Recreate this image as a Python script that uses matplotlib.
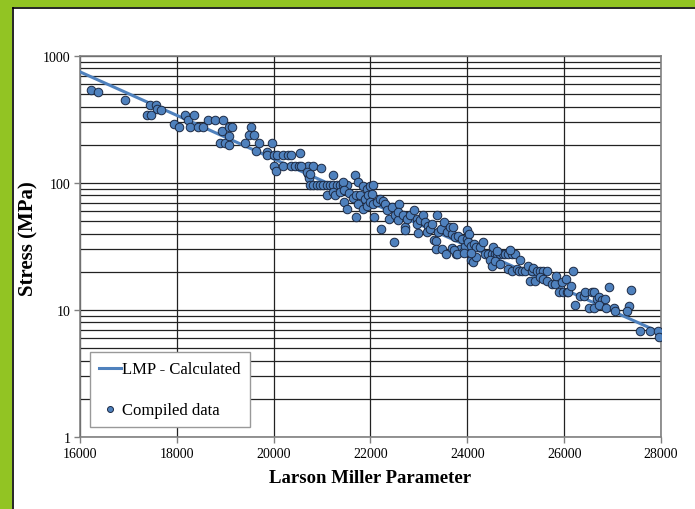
import matplotlib
matplotlib.use("Agg")
from matplotlib import pyplot as plt
from matplotlib.patches import Rectangle
from matplotlib.lines import Line2D
from matplotlib.ticker import LogLocator, FixedLocator, NullFormatter

plt.rcParams['font.family'] = ['Liberation Serif', 'DejaVu Serif']

# fitted Larson-Miller curve (two ends of the straight line in log space)
lmp_line = [16000, 28000]
stress_line = [750, 6.6]

# compiled creep data
lmp_data = [
    16221, 16372, 16930, 17446, 17564, 17584, 17680, 17377, 17473, 17949,
    18052, 18176, 18238, 18273, 18362, 18444, 18548, 18638, 18790, 18949,
    18941, 18899, 18990, 19085, 19085, 19085, 19140, 19409, 19527, 19492,
    19601, 19636, 19692, 19870, 19857, 19967, 20002, 20064, 20002, 20043,
    20200, 20304, 20360, 20200, 20366, 20442, 20525, 20545, 20717, 20717,
    20731, 20752, 20560, 20808,
    20683, 20752, 20973, 21234, 21682, 21750,
    20820, 20890, 20959, 21027, 21097, 21165, 21234, 21303, 21372, 21440, 21510,
    21426, 21097, 21234, 21269, 21372, 21455, 21455, 21524, 21564, 21634,
    21703, 21703, 21750, 21853, 21923, 21992, 22060, 21785, 21888, 21957,
    22027, 21853, 21923, 22074, 21992, 22060, 22129, 22198, 22266, 22300,
    22211, 22335, 22390, 22438, 22488, 22508, 22562, 22597, 22576, 22680,
    22715, 22749, 22715, 22818, 22901, 22957, 22957, 23025, 23093, 23128,
    23196, 22990, 23163, 23231, 23265, 23314, 23355, 23382, 23355, 23472,
    23562, 23403, 23452, 23520, 23576, 23645, 23680, 23713, 23748, 23816,
    23680, 23769, 23851, 23920, 23955, 23989, 23885, 23989, 24043,
    23727, 23783, 23934, 24023, 24072, 24140, 24182, 24264, 24333, 24072,
    24113, 24182, 24072,
    24368, 24436, 24506, 24574, 24610, 24678, 24746, 24781, 24850, 24919, 24987,
    24539, 24610, 24884, 24471, 24506, 24574, 24678,
    24850, 24919, 25023, 25058, 25091, 25126, 25194, 25262, 25332, 25366,
    25434, 25504, 25572, 25643,
    25298, 25401, 25504, 25572, 25643, 25746, 25814, 25835,
    25883, 25986, 26055, 26089, 25952, 26041, 26145, 26180, 26227,
    26331, 26400, 26436, 26574, 26622, 26678, 26711, 26781, 26849, 26917,
    26523, 26622, 26711, 26868, 27033, 27054, 27329, 27308, 27378,
    27570, 27763, 27928, 27957,
]
stress_data = [
    540, 518, 451, 414, 414, 383, 378, 343, 343, 290,
    275, 343, 315, 275, 343, 275, 275, 313, 313, 313,
    255, 207, 207, 236, 199, 276, 276, 207, 276, 239,
    239, 180, 207, 175, 166, 207, 166, 166, 137, 124,
    166, 166, 166, 137, 137, 137, 137, 173, 137, 118,
    109, 96, 137, 137,
    123, 118, 131, 116, 116, 101,
    96, 96, 96, 96, 96, 96, 96, 96, 96, 96, 96,
    102, 80.5, 84.5, 80, 84.5, 88.6, 70.5, 62.4, 83.4, 75.8,
    80, 53.7, 68.4, 95, 89.8, 95, 96, 80, 74.8, 80,
    82, 62.4, 66.2, 53.7, 70.5, 68.4, 70.5, 74.8, 72.6, 68.4,
    43.4, 61, 52.1, 64.3, 34.5, 55.6, 50.8, 68.4, 58.8, 55.6,
    44.8, 52.1, 42.3, 55.6, 61.6, 52.1, 47.5, 50.8, 55.6, 49,
    46.1, 40.2, 40.9, 43.4, 47.5, 35.7, 35.1, 56.3, 30.2, 30.2,
    27.5, 40.9, 43.4, 49, 40.9, 44.8, 39.7, 44.8, 37.3, 38.5,
    30.6, 27.5, 30.2, 28.5, 32.1, 42.3, 36.3, 36.3, 39.7,
    29.9, 27.6, 28.1, 34.1, 32.1, 33.1, 31.2, 31.2, 34.5, 24.9,
    23.7, 26, 28.1,
    27.5, 27.5, 27.5, 27.5, 27.5, 27.5, 27.5, 27.5, 27.5, 27.5, 27.5,
    31.2, 29.3, 29.9, 24.9, 22.3, 24.2, 23.2,
    21, 20.4, 21, 20.4, 24.6, 20.4, 20.4, 22.3, 20.4, 21.4,
    20.4, 20.4, 20.4, 20.4,
    17, 17, 18.1, 17.5, 17, 16, 16, 18.6,
    13.8, 13.8, 13.8, 13.8, 16.5, 17.5, 15.5, 20.4, 10.9,
    13, 13, 13.8, 13.8, 13.8, 12.2, 12.6, 11.9, 12.2, 15.1,
    10.3, 10.3, 10.9, 10.3, 10.3, 9.9, 10.7, 9.9, 14.5,
    6.87, 6.87, 6.87, 6.1,
]

x_ticks = [16000, 18000, 20000, 22000, 24000, 26000, 28000]
y_ticks = [1, 10, 100, 1000]

blue = '#4f81bd'

fig = plt.figure(figsize=(6.95, 5.10), dpi=100)
W, H = 695, 510

# green frame on the left and top, black rule inside it
fig.patches.append(Rectangle((0, 0), 12 / W, 1, transform=fig.transFigure,
                             facecolor='#92c423', edgecolor='none', zorder=0))
fig.patches.append(Rectangle((0, 1 - 8 / H), 1, 8 / H, transform=fig.transFigure,
                             facecolor='#92c423', edgecolor='none', zorder=0))
fig.lines.append(Line2D([13 / W, 13 / W], [0, 1 - 9 / H], transform=fig.transFigure,
                        color='black', lw=1.2))
fig.lines.append(Line2D([13 / W, 1], [1 - 9 / H, 1 - 9 / H], transform=fig.transFigure,
                        color='black', lw=1.2))

ax = fig.add_axes([80 / W, 72 / H, 581 / W, 381 / H])
ax.set_yscale('log')
ax.set_xlim(16000, 28000)
ax.set_ylim(1, 1000)

ax.xaxis.set_major_locator(FixedLocator(x_ticks))
ax.yaxis.set_major_locator(FixedLocator(y_ticks))
ax.yaxis.set_minor_locator(LogLocator(base=10, subs=range(2, 10)))
ax.yaxis.set_minor_formatter(NullFormatter())
ax.set_xticklabels([str(v) for v in x_ticks])
ax.set_yticklabels([str(v) for v in y_ticks])

ax.grid(True, which='major', axis='both', color='#222222', lw=0.9)
ax.grid(True, which='minor', axis='y', color='#222222', lw=0.9)
ax.set_axisbelow(True)

ax.tick_params(axis='both', which='major', direction='out', length=4,
               width=1, color='#808080', labelsize=10, pad=3)
ax.tick_params(axis='y', which='minor', length=0)
for s in ax.spines.values():
    s.set_color('#808080')
    s.set_linewidth(1.2)

ax.plot(lmp_line, stress_line, color=blue, lw=2.2, label='LMP - Calculated', zorder=3)
ax.scatter(lmp_data, stress_data, s=38, facecolor=blue, edgecolor='#1c2a44',
           linewidths=0.7, label='Compiled data', zorder=4)

ax.set_xlabel('Larson Miller Parameter', fontsize=13.5, fontweight='bold', labelpad=7)
ax.set_ylabel('Stress (MPa)', fontsize=15, fontweight='bold')
ax.yaxis.set_label_coords(-0.072, 0.522)

leg = ax.legend(loc='lower left', bbox_to_anchor=(0.017, 0.027), fontsize=12,
                frameon=True, fancybox=False, edgecolor='#999999', framealpha=1,
                handlelength=1.3, handletextpad=0.1, labelspacing=1.45,
                borderpad=0.55, borderaxespad=0, markerscale=0.7)
leg.get_frame().set_linewidth(1.0)

fig.savefig('out.png', dpi=100)
